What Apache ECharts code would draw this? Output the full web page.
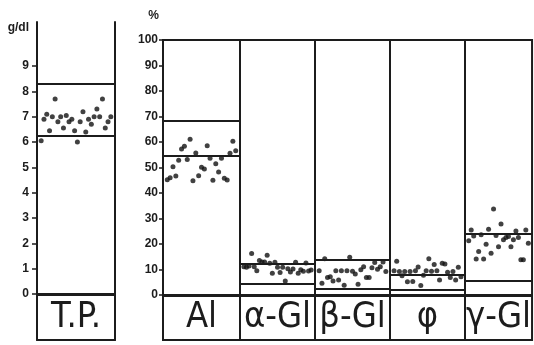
<!DOCTYPE html>
<html style="height: 100%">
<head>
	<meta charset="utf-8">
</head>
<body style="height: 100%; margin: 0; background: #fff">
	<div id="container" style="width: 534px; height: 345px"></div>
	<script type="text/javascript" src="https://cdn.jsdelivr.net/npm/echarts@6/dist/echarts.min.js"></script>
	<script type="text/javascript">
		// panel names (label boxes under each column)
		let panelNames = ['T.P.', 'Al', 'α-Gl', 'β-Gl', 'φ', 'γ-Gl'];

		// individual values, left to right as plotted
		let tpValues = [6.05, 6.9, 7.1, 6.45, 7.0, 7.7, 6.8, 7.0, 6.55, 7.05, 6.8, 6.9, 6.45,
			6.0, 6.8, 7.2, 6.4, 6.9, 6.7, 7.0, 7.3, 7.0, 7.7, 6.55, 6.8, 7.0];
		let alValues = [45.2, 46.0, 50.3, 46.7, 52.8, 57.3, 58.3, 53.1, 61.1, 44.8, 55.7, 46.8, 50.1,
			49.4, 58.5, 53.6, 45.0, 51.5, 48.2, 53.6, 45.8, 45.1, 55.6, 60.3, 56.6];
		let alphaValues = [11.1, 10.9, 11.4, 16.3, 11.1, 9.5, 13.5, 12.9, 12.9, 15.6, 12.4, 8.5, 12.8,
			10.9, 8.8, 10.9, 5.5, 10.3, 9.0, 10.2, 12.8, 8.5, 9.9, 9.3, 12.5, 9.4, 9.8];
		let betaValues = [9.5, 4.6, 14.2, 6.9, 7.2, 5.5, 9.5, 5.9, 9.5, 3.8, 9.5, 14.8, 9.3,
			8.2, 4.2, 9.9, 11.1, 6.9, 6.9, 10.7, 12.7, 10.1, 11.1, 12.9, 9.2];
		let phiValues = [9.5, 13.2, 9.2, 7.5, 9.2, 5.2, 9.2, 5.3, 9.5, 11.0, 3.7, 7.7, 9.5,
			14.2, 9.3, 12.0, 9.5, 5.9, 12.4, 12.2, 8.9, 6.9, 9.2, 5.9, 10.9, 7.2];
		let gammaValues = [21.3, 25.5, 23.1, 14.1, 17.1, 23.6, 14.1, 19.9, 25.8, 16.4, 33.7, 23.3, 18.9,
			27.8, 21.7, 22.5, 22.9, 18.9, 21.7, 25.1, 22.5, 13.8, 13.8, 25.5, 20.3];

		// the two horizontal reference lines drawn across each column
		let upperLines = [8.3, 68.4, 12.3, 13.7, 7.8, 24.2];
		let lowerLines = [6.25, 54.5, 4.6, 2.5, 2.1, 5.4];

		// tick labels
		let tpTicks = [0, 1, 2, 3, 4, 5, 6, 7, 8, 9];
		let pctTicks = [0, 10, 20, 30, 40, 50, 60, 70, 80, 90, 100];

		let allValues = [tpValues, alValues, alphaValues, betaValues, phiValues, gammaValues];

		let ink = '#1c1c1c';
		let labelFont = 'DejaVu Sans Condensed';

		let dom = document.getElementById("container");
		let myChart = echarts.init(dom);

		// column layout (px)
		let lefts = [37, 163, 240, 315, 390, 465];
		let widths = [78, 77, 75, 75, 75, 77];

		let grids = [];
		let xAxes = [];
		let yAxes = [];
		let series = [];

		for (let i = 0; i < 6; i++) {
			let isTp = i === 0;
			grids.push({
				left: lefts[i],
				width: widths[i],
				top: isTp ? 22 : 40,
				height: isTp ? 318 : 300,
				show: !isTp,
				borderColor: ink,
				borderWidth: 2
			});
			xAxes.push({
				type: 'value',
				gridIndex: i,
				min: -1.5,
				max: function (v) { return v.max + 1.5; },
				axisLine: { show: isTp, onZero: false, lineStyle: { color: ink, width: 2 } },
				axisTick: { show: false },
				axisLabel: { show: false },
				splitLine: { show: false },
				name: panelNames[i],
				nameLocation: 'middle',
				nameGap: -40,
				nameTextStyle: {
					fontFamily: labelFont,
					fontSize: 36,
					color: ink
				}
			});
			yAxes.push({
				type: 'value',
				gridIndex: i,
				min: isTp ? -1.816 : -17.65,
				max: isTp ? 10.74 : 100,
				name: isTp ? 'g/dl' : (i === 1 ? '%' : ''),
				nameLocation: 'end',
				nameGap: isTp ? -12 : 18,
				nameTextStyle: {
					color: ink,
					fontSize: 12,
					fontWeight: 'bold',
					align: 'right',
					padding: isTp ? [0, 8, 0, 0] : [0, 4, 0, 0]
				},
				axisLine: { show: isTp, onZero: false, lineStyle: { color: ink, width: 2 } },
				axisTick: {
					show: isTp || i === 1,
					length: isTp ? 5 : 4,
					customValues: isTp ? tpTicks : pctTicks,
					lineStyle: { color: ink, width: 1.5 }
				},
				axisLabel: {
					show: isTp || i === 1,
					customValues: isTp ? tpTicks : pctTicks,
					margin: isTp ? 8 : 5,
					color: ink,
					fontSize: 12,
					fontWeight: 'bold'
				},
				splitLine: { show: false }
			});
			series.push({
				type: 'scatter',
				xAxisIndex: i,
				yAxisIndex: i,
				symbolSize: 5,
				itemStyle: { color: '#111' },
				data: allValues[i].map(function (v, k) { return [k, v]; }),
				markLine: {
					silent: true,
					symbol: 'none',
					label: { show: false },
					animation: false,
					data: [
						{ yAxis: upperLines[i], lineStyle: { color: ink, width: 1.8, type: 'solid' } },
						{ yAxis: lowerLines[i], lineStyle: { color: ink, width: 1.8, type: 'solid' } },
						{ yAxis: 0, lineStyle: { color: ink, width: 3, type: 'solid' } }
					]
				}
			});
		}

		// right border of the T.P. column
		yAxes.push({
			type: 'value',
			gridIndex: 0,
			position: 'right',
			axisLine: { show: true, onZero: false, lineStyle: { color: ink, width: 2 } },
			axisTick: { show: false },
			axisLabel: { show: false },
			splitLine: { show: false }
		});

		let option = {
			backgroundColor: '#fff',
			animation: false,
			grid: grids,
			xAxis: xAxes,
			yAxis: yAxes,
			series: series
		};

		myChart.setOption(option);
	</script>
</body>
</html>
